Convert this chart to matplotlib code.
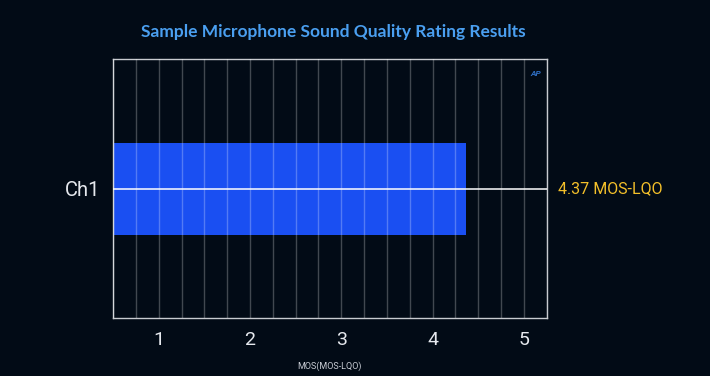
"""
Horizontal bar chart - microphone sound quality rating (MOS-LQO)
"""
import matplotlib.pyplot as plt
from matplotlib.ticker import MultipleLocator, FixedLocator
from matplotlib.transforms import blended_transform_factory

# data
channels = ["Ch1"]
mos_scores = [4.37]
tick_values = [1, 2, 3, 4, 5]
tick_labels = ["1", "2", "3", "4", "5"]

BG = "#020b16"
BAR = "#1a4ff2"
TITLE = "#4a9ff0"
VALUE = "#f4c02a"

plt.rcParams["font.family"] = ["Roboto", "DejaVu Sans"]

fig = plt.figure(figsize=(7.1, 3.76), dpi=100, facecolor=BG)
ax = fig.add_axes([0.1592, 0.1535, 0.6108, 0.6888])
ax.set_facecolor(BG)

ypos = list(range(len(channels)))
bars = ax.barh(ypos, mos_scores, height=0.355, color=BAR, zorder=1)
ax.set_yticks(ypos)
ax.set_yticklabels(channels)

ax.set_xlim(0.5, 5.25)
ax.set_ylim(-0.5, 0.5)

# grid: vertical every 0.25, horizontal white line through the category
ax.xaxis.set_major_locator(FixedLocator(tick_values))
ax.xaxis.set_minor_locator(MultipleLocator(0.25))
ax.set_xticklabels(tick_labels)
ax.grid(axis="x", which="both", color="white", alpha=0.25, linewidth=1.0, zorder=2)
ax.grid(axis="y", which="major", color="white", alpha=1.0, linewidth=1.1, zorder=3)
ax.set_axisbelow(False)

ax.tick_params(axis="both", which="both", length=0)
ax.tick_params(axis="x", labelsize=14, labelcolor="#e6e9ee", pad=9)
ax.tick_params(axis="y", labelsize=14.5, labelcolor="#e6e9ee", pad=9)

for sp in ax.spines.values():
    sp.set_color("#c8cbd0")
    sp.set_linewidth(1.0)

ax.set_xlabel("MOS(MOS-LQO)", fontsize=6.5, color="#c8ccd4", labelpad=9)

fig.suptitle("Sample Microphone Sound Quality Rating Results", x=0.469, y=0.935,
             fontsize=12.5, color=TITLE, family=["Lato", "DejaVu Sans"], fontweight="bold")

# value labels right of the plot
trans = blended_transform_factory(ax.transAxes, ax.transData)
for y, v in zip(ypos, mos_scores):
    ax.annotate(f"{v} MOS-LQO", xy=(1.0, y), xycoords=trans, xytext=(8, 0),
                textcoords="offset points", va="center", ha="left",
                fontsize=11.5, color=VALUE)

# small logo mark
ax.text(0.975, 0.945, "AP", transform=ax.transAxes, fontsize=6, style="italic",
        fontweight="bold", color="#2f6fc4", ha="center", va="center")

fig.savefig("out.png", dpi=100, facecolor=BG)
